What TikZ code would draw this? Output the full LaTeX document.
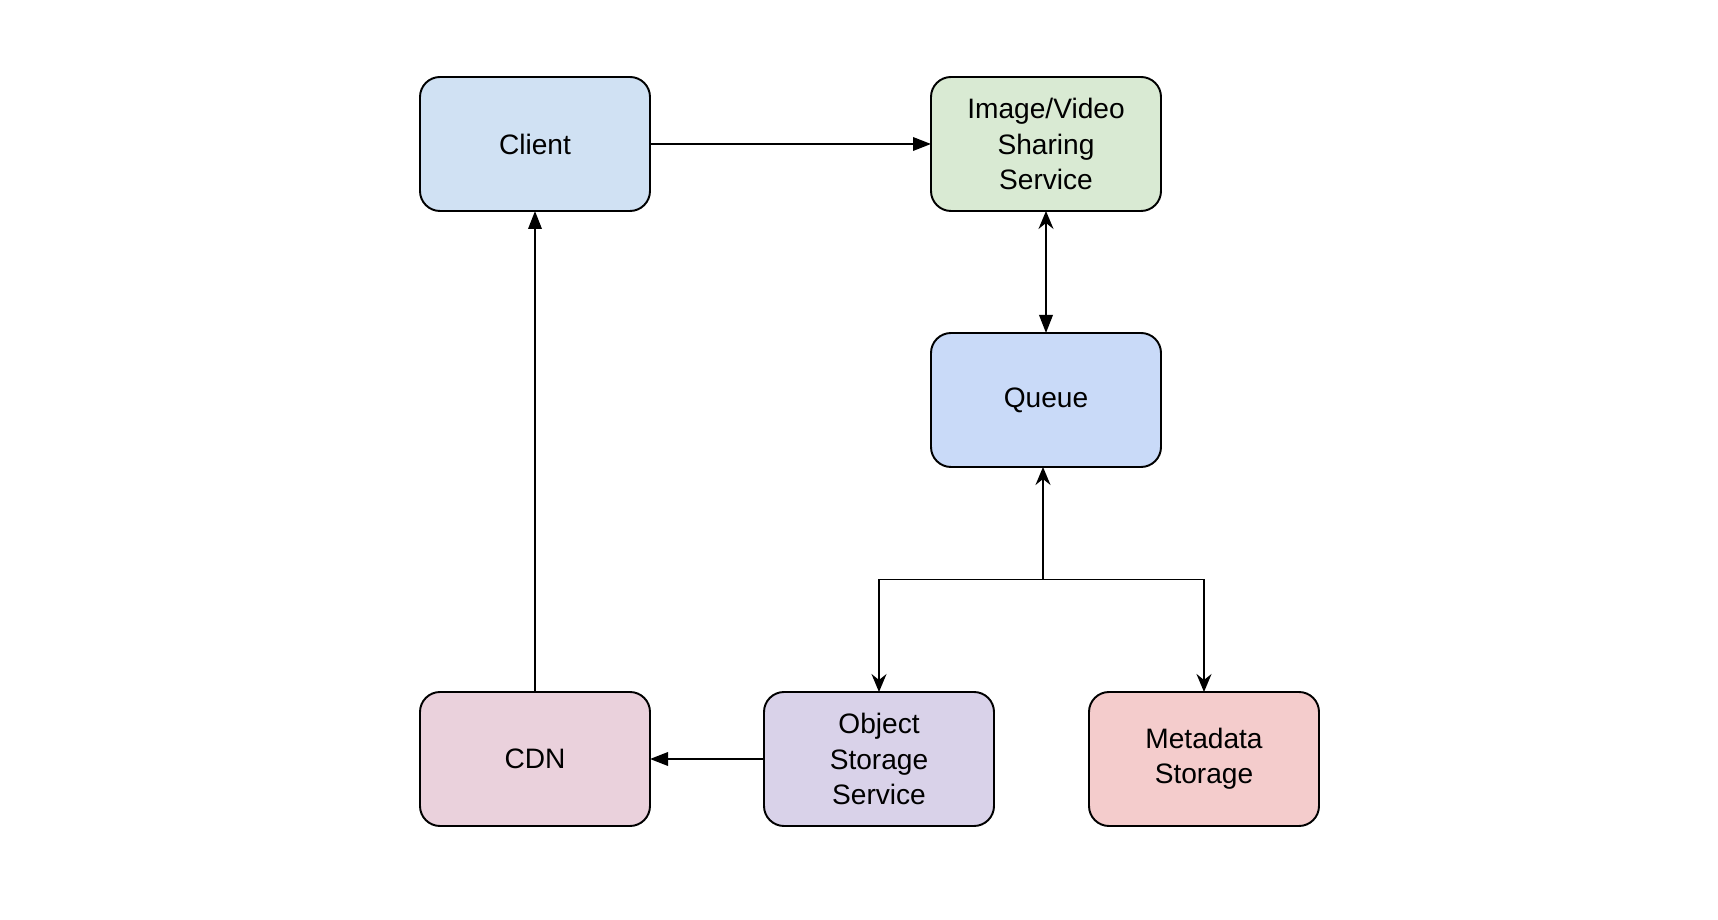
\documentclass[tikz,border=0pt]{standalone}
\usepackage{fontspec}
\setmainfont{Liberation Sans}
\usetikzlibrary{positioning, arrows.meta, calc}

\definecolor{clientblue}{HTML}{D0E1F3}
\definecolor{sharegreen}{HTML}{D9EAD3}
\definecolor{queueblue}{HTML}{C9DAF8}
\definecolor{cdnpink}{HTML}{EAD1DC}
\definecolor{objpurple}{HTML}{D9D2E9}
\definecolor{metared}{HTML}{F4CCCC}

\begin{document}
\begin{tikzpicture}[
    box/.style={rectangle, draw=black, line width=1.1pt, rounded corners=0.4cm, minimum width=4.6cm, minimum height=2.68cm, text width=4.2cm, align=center, font=\fontsize{16}{20}\selectfont, outer sep=0pt},
    arrow/.style={line width=1.1pt, -{Triangle[length=0.36cm, width=0.27cm]}},
    thinarrow/.style={line width=1.1pt, -{Stealth[length=0.36cm, width=0.3cm, inset=0.12cm]}}
  ]
    \useasboundingbox (-10.7,2.88) rectangle (23.66,-15.52);

    % Top row
    \node (client) [box, fill=clientblue] {Client};
    \node (share) [box, fill=sharegreen, right=5.62cm of client] {Image/Video\\Sharing\\Service};
    \node (queue) [box, fill=queueblue, below=2.44cm of share] {Queue};

    % Bottom row
    \node (cdn) [box, fill=cdnpink, below=9.62cm of client] {CDN};
    \node (object) [box, fill=objpurple, right=2.28cm of cdn] {Object\\Storage\\Service};
    \node (meta) [box, fill=metared, right=1.9cm of object] {Metadata\\Storage};

    \coordinate (split) at ($(queue.south)!0.5!(queue.south |- object.north) + (-0.06,0)$);

    \draw[arrow] (client) -- (share);
    \draw[line width=1.1pt, {Stealth[length=0.36cm, width=0.3cm, inset=0.12cm]}-{Triangle[length=0.36cm, width=0.27cm]}] (share) -- (queue);
    \draw[thinarrow] (split) -- (split |- queue.south);
    \draw[thinarrow] (split) -| (object.north);
    \draw[thinarrow] (split) -| (meta.north);
    \draw[arrow] (object) -- (cdn);
    \draw[arrow] (cdn) -- (client);

  \end{tikzpicture}
\end{document}
